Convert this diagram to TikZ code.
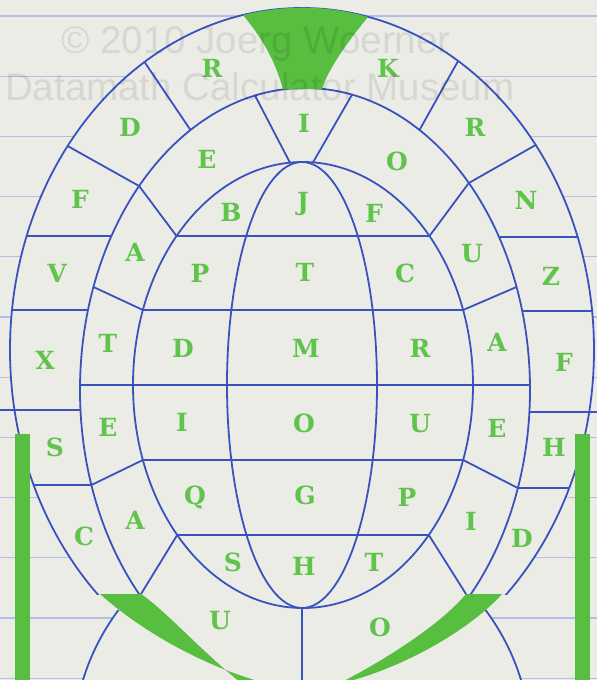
\documentclass[tikz,border=0pt]{standalone}
\usepackage{fontspec}
\newfontfamily\letterfont{DejaVu Serif}
\newfontfamily\wmfont{Liberation Sans}
\definecolor{paper}{RGB}{236,236,231}
\definecolor{rulec}{RGB}{180,190,228}
\definecolor{ink}{RGB}{58,82,190}
\definecolor{gfill}{RGB}{88,190,64}
\definecolor{gtext}{RGB}{96,196,76}
\tikzset{
 bl/.style={draw=ink, line width=1.8pt, line cap=round, line join=round},
 rl/.style={draw=rulec, line width=1.3pt},
 gr/.style={fill=gfill},
 lt/.style={font=\letterfont\bfseries\fontsize{25}{25}\selectfont, text=gtext, inner sep=0pt, text height=18.5pt, text depth=0pt, anchor=center},
 wm/.style={font=\wmfont\fontsize{38.5}{38.5}\selectfont, text=black, text opacity=0.09, inner sep=0pt, anchor=base west}
}
\begin{document}
\begin{tikzpicture}[x=1pt,y=-1pt]
\useasboundingbox (0,0) rectangle (597,680);
\clip (0,0) rectangle (597,680);
% paper and ruled lines
\fill[paper] (0,0) rectangle (597,680);
\foreach \k in {0,...,11} \draw[rl] (0,{16+60.2*\k}) -- (597,{16+60.2*\k});
\fill[paper] (302,350) ellipse [x radius=292pt, y radius=342pt];
\fill[paper] (302,747) circle [radius=229pt];
% outer and middle ellipses (upper part)
\begin{scope}
 \clip (0,0) rectangle (597,594);
 \draw[bl] (302,350) ellipse [x radius=292pt, y radius=342pt];
 \draw[bl] (305,390) ellipse [x radius=225pt, y radius=302pt];
\end{scope}
% inner ellipse and lens
\draw[bl] (303,385) ellipse [x radius=170pt, y radius=223pt];
\draw[bl] (302,385) ellipse [x radius=75pt, y radius=223pt];
\begin{scope}
 \clip (303,385) ellipse [x radius=170pt, y radius=223pt];
 \foreach \yy in {236,310,460,535} \draw[bl] (100,\yy) -- (500,\yy);
\end{scope}
\begin{scope}
 \clip (305,390) ellipse [x radius=225pt, y radius=302pt];
 \draw[bl] (0,385) -- (597,385);
\end{scope}
% lower arcs
\begin{scope}
 \clip (0,610) rectangle (597,690);
 \draw[bl] (302,747) circle [radius=229pt];
\end{scope}
\draw[bl] (302,608) -- (302,690);
% dividers left
\draw[bl] (144.5,62) -- (190.5,130);
\draw[bl] (67.6,146) -- (139.1,186) -- (176.5,236);
\draw[bl] (26.7,236) -- (111.5,236);
\draw[bl] (12,310) -- (88,310);
\draw[bl] (93.5,287) -- (142.9,310);
\draw[bl] (0,410) -- (80.5,410);
\draw[bl] (33.7,485) -- (91.4,485) -- (142.9,460);
\draw[bl] (177.2,535) -- (141,594);
\draw[bl] (255,95.5) -- (290,162.7);
% dividers right
\draw[bl] (352,94.7) -- (313,162.4);
\draw[bl] (458.1,61) -- (419.5,130);
\draw[bl] (535.7,145) -- (468.8,183) -- (429.5,236);
\draw[bl] (499,237) -- (577.6,237);
\draw[bl] (522.2,311) -- (592,311);
\draw[bl] (516.5,287) -- (463.1,310);
\draw[bl] (529.4,412) -- (597,412);
\draw[bl] (463.1,460) -- (517.8,488) -- (569.2,488);
\draw[bl] (428.8,535) -- (466,594);
% green shapes
\fill[gr] (243,15) .. controls (283,5) and (328,5) .. (368,17) .. controls (345,45) and (328,70) .. (322,89) -- (283,89.4) .. controls (275,60) and (262,38) .. (243,15) -- cycle;
\fill[gr] (100,594) -- (141,594) .. controls (165,610) and (205,655) .. (245,686) -- (285,688) .. controls (210,672) and (140,630) .. (100,594) -- cycle;
\fill[gr] (466,594) -- (502,594) .. controls (470,630) and (400,670) .. (338,684) .. controls (385,660) and (440,625) .. (466,594) -- cycle;
\fill[gr] (15,434) rectangle (30,690);
\fill[gr] (575,434) rectangle (590,690);
% letters outer ring
\node[lt] (a1) at (212,68) {R};
\node[lt] (a2) at (130,127) {D};
\node[lt] (a3) at (80,199) {F};
\node[lt] (a4) at (57,273) {V};
\node[lt] (a5) at (45,360) {X};
\node[lt] (a6) at (55,447) {S};
\node[lt] (a7) at (84,536) {C};
\node[lt] (b1) at (388,68) {K};
\node[lt] (b2) at (475,127) {R};
\node[lt] (b3) at (526,200) {N};
\node[lt] (b4) at (551,276) {Z};
\node[lt] (b5) at (564,362) {F};
\node[lt] (b6) at (554,447) {H};
\node[lt] (b7) at (522,538) {D};
% middle ring
\node[lt] (c0) at (304,123) {I};
\node[lt] (c1) at (207,159) {E};
\node[lt] (c2) at (135,252) {A};
\node[lt] (c3) at (108,343) {T};
\node[lt] (c4) at (108,427) {E};
\node[lt] (c5) at (135,520) {A};
\node[lt] (d1) at (397,161) {O};
\node[lt] (d2) at (472,253) {U};
\node[lt] (d3) at (497,342) {A};
\node[lt] (d4) at (497,428) {E};
\node[lt] (d5) at (471,521) {I};
% inner
\node[lt] (e1) at (231,212) {B};
\node[lt] (e2) at (200,273) {P};
\node[lt] (e3) at (183,348) {D};
\node[lt] (e4) at (182,422) {I};
\node[lt] (e5) at (195,495) {Q};
\node[lt] (e6) at (233,562) {S};
\node[lt] (f1) at (303,201) {J};
\node[lt] (f2) at (305,272) {T};
\node[lt] (f3) at (306,348) {M};
\node[lt] (f4) at (304,423) {O};
\node[lt] (f5) at (305,495) {G};
\node[lt] (f6) at (304,566) {H};
\node[lt] (g1) at (374,213) {F};
\node[lt] (g2) at (405,273) {C};
\node[lt] (g3) at (420,348) {R};
\node[lt] (g4) at (420,423) {U};
\node[lt] (g5) at (407,497) {P};
\node[lt] (g6) at (374,562) {T};
\node[lt] (h1) at (220,620) {U};
\node[lt] (h2) at (380,627) {O};
% watermark
\node[wm] (wm1) at (61,53) {© 2010 Joerg Woerner};
\node[wm] (wm2) at (5,100) {Datamath Calculator Museum};
\end{tikzpicture}
\end{document}
